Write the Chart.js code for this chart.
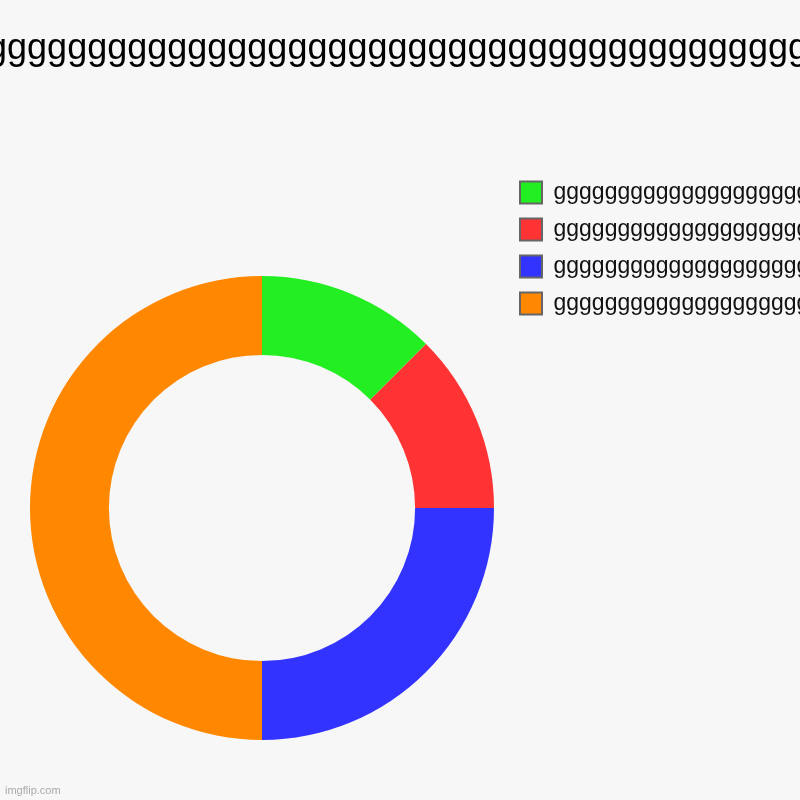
<!DOCTYPE html>
<html>
<head>
<meta charset="utf-8">
<title>chart</title>
<script src="https://cdn.jsdelivr.net/npm/chart.js@4/dist/chart.umd.min.js"></script>
<style>
  html, body { margin: 0; padding: 0; background: #f7f7f7; }
  #chart { display: block; }
</style>
</head>
<body>
<canvas id="chart" width="800" height="800"></canvas>
<script>
// Daten
var chartTitle = 'ggggggggggggggggggggggggggggggggggggggggggggggggggg';
var labels = [
  'gggggggggggggggggggggggggggggg',
  'gggggggggggggggggggggggggggggg',
  'gggggggggggggggggggggggggggggg',
  'gggggggggggggggggggggggggggggg'
];
var values = [1, 1, 2, 4];
var colors = ['#22ee22', '#ff3333', '#3333ff', '#ff8800'];
var watermark = 'imgflip.com';

// Titel als eigene Layout-Box, damit der Text nicht gestaucht wird
var titlePlugin = {
  id: 'gTitle',
  start: function(chart) {
    var box = {
      position: 'top',
      weight: 2000,
      fullSize: false,
      options: {},
      isHorizontal: function() { return true; },
      update: function(maxWidth) {
        this.width = maxWidth;
        this.height = 49;
      },
      draw: function() {
        var ctx = chart.ctx;
        ctx.save();
        ctx.font = '36px "Liberation Sans", Arial, sans-serif';
        ctx.fillStyle = '#000';
        ctx.textAlign = 'center';
        ctx.textBaseline = 'alphabetic';
        ctx.fillText(chartTitle, 397.5, 59);
        ctx.restore();
      }
    };
    Chart.layouts.addBox(chart, box);
  },
  afterDraw: function(chart) {
    var ctx = chart.ctx;
    ctx.save();
    ctx.font = '11px "Liberation Sans", Arial, sans-serif';
    ctx.fillStyle = '#aaaaaa';
    ctx.textAlign = 'left';
    ctx.textBaseline = 'alphabetic';
    ctx.fillText(watermark, 5, 794);
    ctx.restore();
  }
};

var ctx = document.getElementById('chart').getContext('2d');
var chart = new Chart(ctx, {
  type: 'doughnut',
  data: {
    labels: labels,
    datasets: [{
      data: values,
      backgroundColor: colors,
      borderWidth: 0,
      radius: 232,
      cutout: '66%'
    }]
  },
  options: {
    responsive: false,
    animation: false,
    devicePixelRatio: 1,
    layout: {
      padding: { top: 167, left: 18, right: 0, bottom: 0 }
    },
    plugins: {
      title: { display: false },
      tooltip: { enabled: false },
      legend: {
        position: 'right',
        align: 'start',
        maxWidth: 294,
        labels: {
          boxWidth: 22,
          boxHeight: 22,
          padding: 14,
          color: '#111',
          font: { size: 23, family: '"Liberation Sans", Arial, sans-serif' },
          generateLabels: function(chart) {
            var items = Chart.overrides.doughnut.plugins.legend.labels.generateLabels(chart);
            items.forEach(function(item) {
              item.strokeStyle = '#666666';
              item.lineWidth = 2;
            });
            return items;
          }
        }
      }
    }
  },
  plugins: [titlePlugin]
});
</script>
</body>
</html>
